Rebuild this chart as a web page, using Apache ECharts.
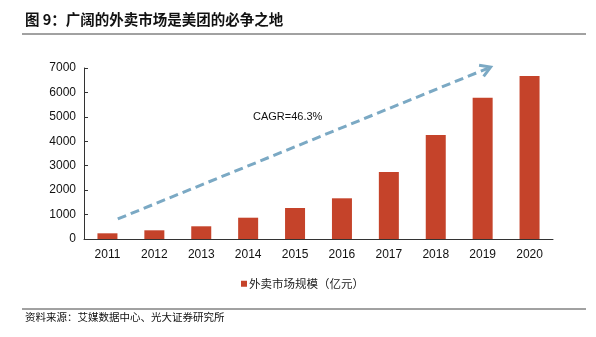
<!DOCTYPE html>
<html><head><meta charset="utf-8">
<script src="https://cdn.jsdelivr.net/npm/echarts@6/dist/echarts.min.js"></script>
<style>html,body{margin:0;padding:0;background:#fff}#c{width:596px;height:337px}</style>
</head><body><div id="c"></div>
<script>
var categories = ['2011','2012','2013','2014','2015','2016','2017','2018','2019','2020'];
var marketSize = [233, 356, 520, 872, 1269, 1666, 2742, 4257, 5784, 6672];
var yTicks = [0, 1000, 2000, 3000, 4000, 5000, 6000, 7000];
var trendStart = [0.22, 820];
var trendEnd = [8.15, 7020];
var seriesName = '外卖市场规模（亿元）';
var titleText = '图 9：广阔的外卖市场是美团的必争之地';
var sourceText = '资料来源：艾媒数据中心、光大证券研究所';
var cagrText = 'CAGR=46.3%';

var chart = echarts.init(document.getElementById('c'));
var font = '"Liberation Sans", Arial, sans-serif';
var cjk = '"Noto Sans CJK SC", sans-serif';
var arrowColor = '#7BA9C4';
chart.setOption({
  animation: false,
  textStyle: {fontFamily: font},
  grid: {left: 84, right: 43, top: 68, bottom: 98},
  legend: {
    data: [seriesName], top: 273, left: 236,
    itemWidth: 6, itemHeight: 6, icon: 'rect', itemGap: 4,
    textStyle: {fontFamily: cjk, fontSize: 11.5, color: '#222', padding: [0, 0, 0, -3]}
  },
  xAxis: [{
    type: 'category', data: categories,
    axisLine: {lineStyle: {color: '#333', width: 1}},
    axisTick: {inside: true, length: 4, lineStyle: {color: '#333'}},
    axisLabel: {color: '#111', fontSize: 12, margin: 10}
  }, {
    type: 'value', min: -0.5, max: 9.5, show: false
  }],
  yAxis: {
    type: 'value', min: yTicks[0], max: yTicks[yTicks.length - 1], interval: 1000,
    axisLine: {show: true, onZero: false, lineStyle: {color: '#333', width: 1}},
    axisTick: {show: true, inside: true, length: 4, lineStyle: {color: '#333'}},
    splitLine: {show: false},
    axisLabel: {color: '#111', fontSize: 12, margin: 8, formatter: function (v) { return String(v); }}
  },
  series: [{
    name: seriesName, type: 'bar', data: marketSize, barWidth: 20,
    itemStyle: {color: '#C5432A'}
  }, {
    name: 'trend', type: 'custom', xAxisIndex: 1, silent: true, clip: false,
    data: [[trendStart[0], trendStart[1], trendEnd[0], trendEnd[1]]],
    encode: {x: [0, 2], y: [1, 3]},
    renderItem: function (params, api) {
      var p0 = api.coord([api.value(0), api.value(1)]);
      var p1 = api.coord([api.value(2), api.value(3)]);
      var dx = p1[0] - p0[0], dy = p1[1] - p0[1];
      var len = Math.sqrt(dx * dx + dy * dy);
      var ux = dx / len, uy = dy / len;
      var nx = -uy, ny = ux;
      var hl = 9, hw = 6;
      var tip = [p1[0] + ux * 1, p1[1] + uy * 1];
      var a = [p1[0] - ux * hl + nx * hw, p1[1] - uy * hl + ny * hw];
      var b = [p1[0] - ux * hl - nx * hw, p1[1] - uy * hl - ny * hw];
      return {
        type: 'group',
        children: [{
          type: 'line',
          shape: {x1: p0[0], y1: p0[1], x2: p1[0] - ux * 2, y2: p1[1] - uy * 2},
          style: {stroke: arrowColor, lineWidth: 3, lineDash: [9, 5]}
        }, {
          type: 'polyline',
          shape: {points: [a, tip, b]},
          style: {stroke: arrowColor, lineWidth: 3, fill: null}
        }]
      };
    }
  }],
  graphic: [
    {type: 'text', left: 25, top: 12, style: {text: titleText, font: 'bold 14.5px ' + cjk, fill: '#111'}},
    {type: 'line', shape: {x1: 22, y1: 34, x2: 586, y2: 34}, style: {stroke: '#444', lineWidth: 1}},
    {type: 'text', left: 253, top: 111, style: {text: cagrText, font: '11px ' + font, fill: '#111'}},
    {type: 'line', shape: {x1: 22, y1: 309, x2: 586, y2: 309}, style: {stroke: '#444', lineWidth: 1}},
    {type: 'text', left: 25, top: 312, style: {text: sourceText, font: '10.5px ' + cjk, fill: '#111'}}
  ]
});
</script></body></html>
